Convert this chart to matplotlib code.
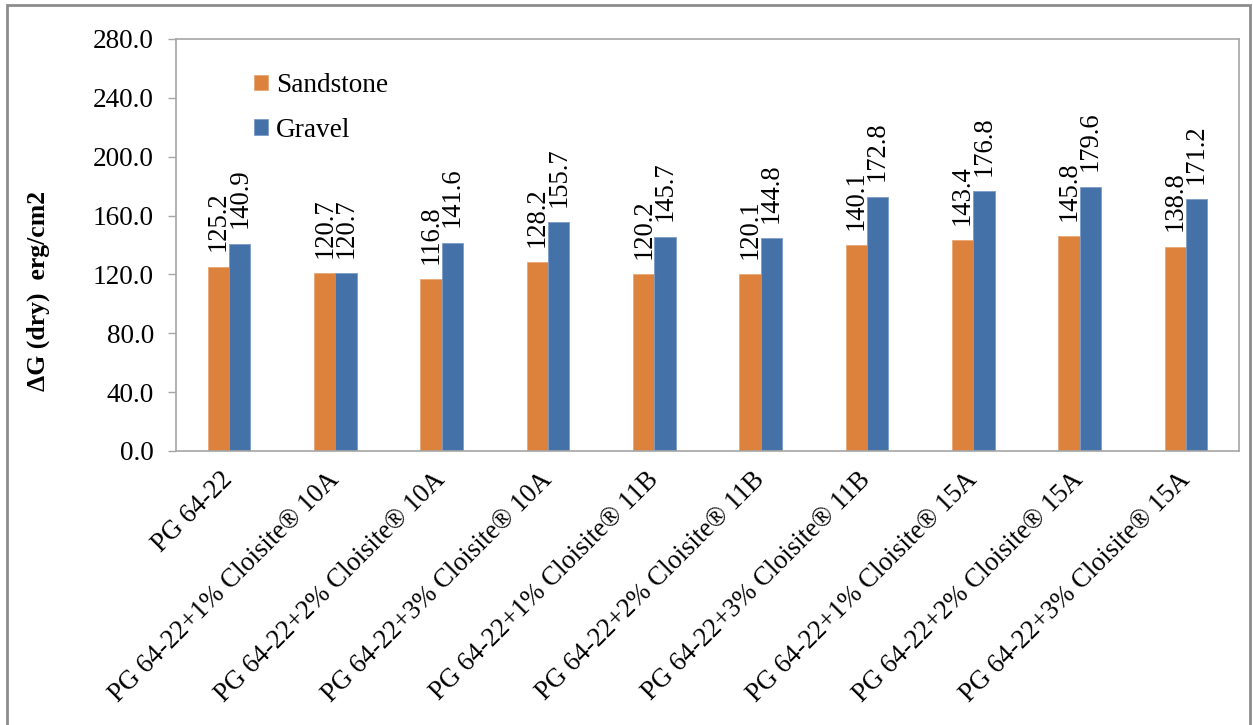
import matplotlib
matplotlib.use("Agg")
import matplotlib.pyplot as plt
import numpy as np
from matplotlib.patches import Rectangle

plt.rcParams['font.family'] = ['Liberation Serif', 'DejaVu Serif']

categories = [
    "PG 64-22",
    "PG 64-22+1% Cloisite® 10A",
    "PG 64-22+2% Cloisite® 10A",
    "PG 64-22+3% Cloisite® 10A",
    "PG 64-22+1% Cloisite® 11B",
    "PG 64-22+2% Cloisite® 11B",
    "PG 64-22+3% Cloisite® 11B",
    "PG 64-22+1% Cloisite® 15A",
    "PG 64-22+2% Cloisite® 15A",
    "PG 64-22+3% Cloisite® 15A",
]
sandstone = [125.2, 120.7, 116.8, 128.2, 120.2, 120.1, 140.1, 143.4, 145.8, 138.8]
gravel = [140.9, 120.7, 141.6, 155.7, 145.7, 144.8, 172.8, 176.8, 179.6, 171.2]
series_names = ["Sandstone", "Gravel"]
y_ticks = [0, 40, 80, 120, 160, 200, 240, 280]

orange = "#DC823C"
blue = "#4472A8"
spine_gray = "#A6A6A6"
fs = 19.6

fig = plt.figure(figsize=(12.53, 7.25), dpi=100)
W, H = 1253, 725
ax = fig.add_axes([176 / W, 1 - 451 / H, (1239 - 176) / W, (451 - 39) / H])

x = np.arange(len(categories))
bw = 0.2
b1 = ax.bar(x - bw / 2, sandstone, bw, color=orange, edgecolor="#E9A876", linewidth=0.6,
            label=series_names[0])
b2 = ax.bar(x + bw / 2, gravel, bw, color=blue, edgecolor="#7C9CC6", linewidth=0.6,
            label=series_names[1])

# value labels, written upright along each bar
for bars, vals in ((b1, sandstone), (b2, gravel)):
    for rect, v in zip(bars, vals):
        ax.annotate(f"{v:.1f}", (rect.get_x() + rect.get_width() / 2, v),
                    xytext=(0, 11), textcoords="offset points",
                    rotation=90, ha="center", va="bottom", fontsize=19.2)

ax.set_xlim(-0.5, len(categories) - 0.5)
ax.set_ylim(0, 280)
ax.set_yticks(y_ticks)
ax.set_yticklabels([f"{t:.1f}" for t in y_ticks], fontsize=fs)
ax.set_xticks(x)
ax.set_xticklabels(categories, rotation=45, ha="right", va="center",
                   rotation_mode="anchor", fontsize=19.1)
ax.tick_params(axis="x", length=0, pad=18)
ax.tick_params(axis="y", length=6, width=1, color=spine_gray, pad=10)
for s in ax.spines.values():
    s.set_color(spine_gray)
    s.set_linewidth(1.2)

ax.legend(loc="upper left", bbox_to_anchor=(78 / (1239 - 176), 1 - 34 / 412),
          frameon=False, fontsize=fs, handlelength=0.5, handleheight=0.5,
          handletextpad=0.3, labelspacing=0.72, borderpad=0, borderaxespad=0)

fig.text(38 / W, 1 - 291 / H, "ΔG (dry)  erg/cm2", rotation=90, ha="center",
         va="center", fontsize=18.5, fontweight="bold")

# outer chart border
fig.patches.append(Rectangle((7 / W, -0.02), (1250 - 7) / W, 1.02 - 5 / H,
                             transform=fig.transFigure, fill=False,
                             edgecolor="#8C8C8C", linewidth=2))

fig.savefig("out.png", dpi=100)
